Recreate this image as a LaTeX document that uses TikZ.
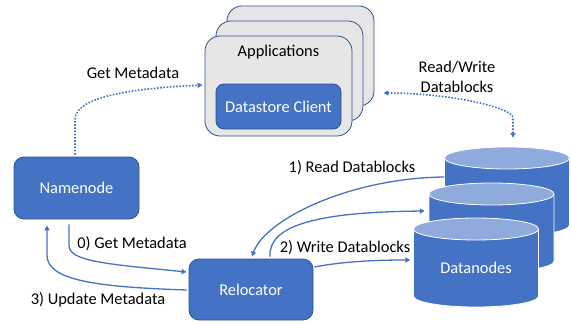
\documentclass[tikz,border=0pt]{standalone}
\usepackage{fontspec}
\setmainfont{Carlito}
\usetikzlibrary{arrows.meta}
\definecolor{boxblue}{HTML}{4472C4}
\definecolor{boxedge}{HTML}{2F528F}
\definecolor{cyltop}{HTML}{8FAADC}
\definecolor{appgray}{HTML}{E7E6E6}
\newcommand{\mycyl}[3]{% cx, top ellipse centre y, bottom ellipse centre y
  \fill[boxblue] (#1-62.5,#2) -- (#1-62.5,#3) arc[start angle=180,end angle=360,x radius=62.5pt,y radius=11pt] -- (#1+62.5,#2) -- cycle;
  \draw[white,line width=0.8pt] (#1-62.5,#2) -- (#1-62.5,#3) arc[start angle=180,end angle=360,x radius=62.5pt,y radius=11pt] -- (#1+62.5,#2);
  \filldraw[fill=cyltop,draw=white,line width=0.8pt] (#1,#2) ellipse[x radius=62.5pt,y radius=11pt];
}
\begin{document}
\begin{tikzpicture}[x=1pt,y=-1pt,
  font=\fontsize{16.4}{19.5}\selectfont,
  bluebox/.style={draw=boxedge,fill=boxblue,line width=0.8pt,rounded corners=10pt,text=white,inner sep=0pt},
  appbox/.style={draw=boxedge,fill=appgray,line width=0.8pt,rounded corners=15pt,minimum width=147pt,minimum height=100pt,inner sep=0pt},
  area/.style={inner sep=0pt,minimum width=125pt,minimum height=89pt},
  conn/.style={draw=boxblue,line width=1.3pt,-{Triangle[length=5pt,width=5pt]}},
  dotconn/.style={draw=boxblue,line width=1.6pt,dash pattern=on 1.6pt off 1.6pt,-{Triangle[length=5pt,width=5pt]}},
  lbl/.style={text=black,inner sep=0pt}]
\useasboundingbox (0,0) rectangle (571,324);

% applications stack
\node[appbox] (app3) at (300.5,56) {};
\node[appbox] (app2) at (289.5,71) {};
\node[appbox] (app1) at (278.5,86) {};
\node[lbl] (apptxt) at (278.5,52) {Applications};
\node[bluebox,rounded corners=8pt,minimum width=125pt,minimum height=45pt] (client) at (278.5,106.5) {Datastore Client};

% namenode and relocator
\node[bluebox,minimum width=125pt,minimum height=62pt] (nn) at (76.5,188) {Namenode};
\node[bluebox,minimum width=124pt,minimum height=61pt] (rl) at (251,289.5) {Relocator};

% datanodes
\mycyl{507}{158}{225}
\mycyl{491.5}{194}{261}
\mycyl{476}{229}{296}
\node[area] (dn3) at (507,191.5) {};
\node[area] (dn2) at (491.5,227.5) {};
\node[area] (dn1) at (476,262.5) {};
\node[lbl,text=white] (dntxt) at (476,268) {Datanodes};

% connectors
\draw[dotconn] ([xshift=-1.5pt,yshift=2pt]nn.north) -- ++(0,-35)
  .. controls +(0,-25) and +(-60,3) .. ([xshift=-2pt,yshift=1pt]app1.west);
\draw[dotconn,{Triangle[length=5pt,width=5pt]}-{Triangle[length=5pt,width=5pt]}]
  ([xshift=6pt,yshift=9pt]dn3.north) -- ++(0,-20)
  .. controls +(0,-10) and +(67,0) .. ([xshift=9pt,yshift=-37pt]app3.east);
\draw[conn] ([yshift=14.5pt]dn3.west) .. controls +(-95,1) and +(13,-37) .. ([xshift=1pt,yshift=2pt]rl.north);
\draw[conn] ([xshift=19pt,yshift=2pt]rl.north) .. controls +(-2,-32) and +(-105,1) .. ([xshift=-4pt,yshift=16.5pt]dn2.west);
\draw[conn] ([xshift=1pt,yshift=22.5pt]rl.east) .. controls +(26,-5) and +(-40,0) .. ([xshift=-3pt,yshift=2.5pt]dn1.west);
\draw[conn] ([xshift=-7.5pt,yshift=-5pt]nn.south) -- ++(0,21)
  .. controls +(0,16) and +(-80,-8) .. ([xshift=-2pt,yshift=17.5pt]rl.west);
\draw[conn,{Triangle[length=5pt,width=5pt]}-] ([xshift=-29.5pt,yshift=-6pt]nn.south) -- ++(0,30)
  .. controls +(0,25) and +(-90,-3) .. ([xshift=-2pt,yshift=-0.5pt]rl.west);

% labels
\node[lbl] (l0) at (133,73) {Get Metadata};
\node[lbl,align=center] (l1) at (457,77) {Read/Write\\Datablocks};
\node[lbl] (l2) at (352,168) {1) Read Datablocks};
\node[lbl] (l3) at (345,248) {2) Write Datablocks};
\node[lbl] (l4) at (132,244) {0) Get Metadata};
\node[lbl] (l5) at (98,300) {3) Update Metadata};
\end{tikzpicture}
\end{document}
